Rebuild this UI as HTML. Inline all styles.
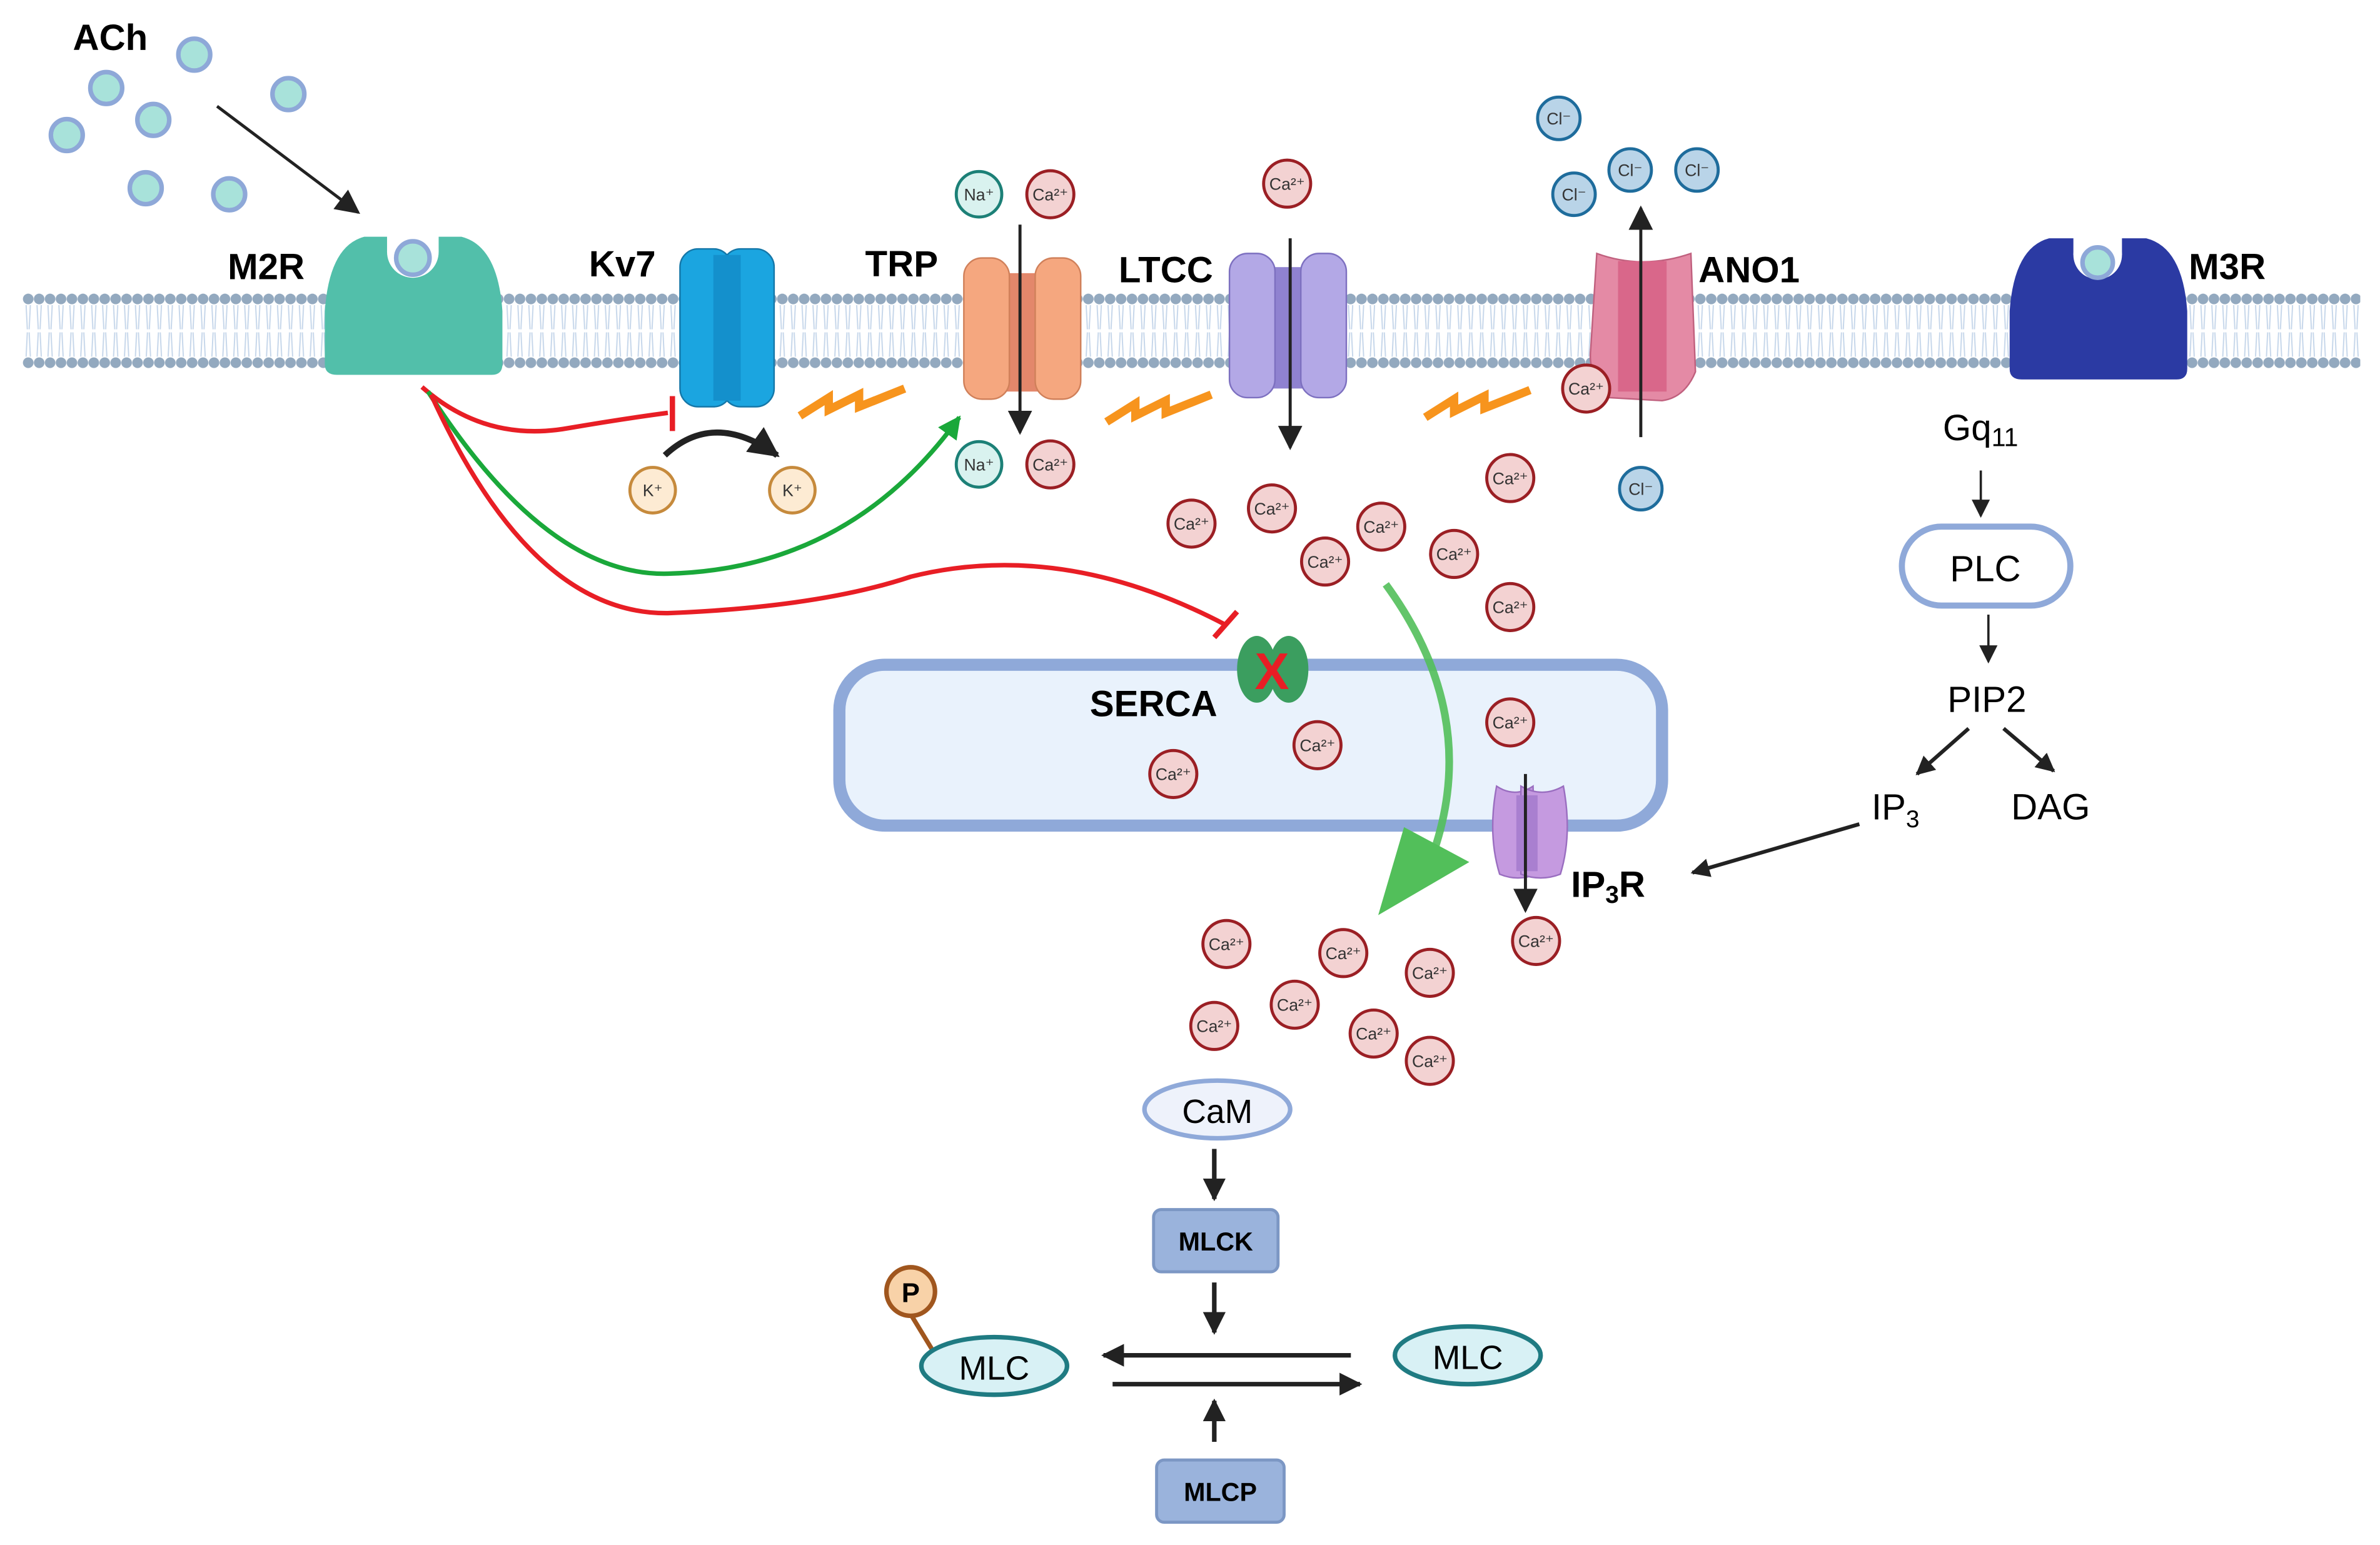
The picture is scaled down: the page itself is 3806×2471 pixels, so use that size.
<!DOCTYPE html>
<html><head><meta charset="utf-8"><style>
html,body{margin:0;padding:0;background:#fff;}
svg{display:block;}
text{font-family:"Liberation Sans",sans-serif;}
.b{font-weight:bold;}
</style></head><body>
<svg width="3806" height="2471" viewBox="0 0 1568 1018" preserveAspectRatio="none" xmlns="http://www.w3.org/2000/svg">
<defs>
<pattern id="heads" x="15" y="0" width="7.2" height="1018" patternUnits="userSpaceOnUse">
<circle cx="3.6" cy="197" r="3.5" fill="#93a9bf"/>
<circle cx="3.6" cy="239" r="3.5" fill="#93a9bf"/>
<path d="M2.2 201 L3 217 M5 201 L4.2 217 M2.2 235 L3 219 M5 235 L4.2 219" stroke="#c5d6ea" stroke-width="0.8" fill="none"/>
</pattern>
<marker id="ah" viewBox="0 0 10 10" refX="9" refY="5" markerWidth="5" markerHeight="5" orient="auto"><path d="M0 0 L10 5 L0 10 z" fill="#222"/></marker>
<marker id="ahs" viewBox="0 0 10 10" refX="9" refY="5" markerWidth="8" markerHeight="8" orient="auto"><path d="M0 0 L10 5 L0 10 z" fill="#222"/></marker>
<marker id="ahg" viewBox="0 0 10 10" refX="9" refY="5" markerWidth="5" markerHeight="5" orient="auto"><path d="M0 0 L10 5 L0 10 z" fill="#1aa83a"/></marker>
<g id="ca"><circle r="15.5" fill="#f3d2d2" stroke="#9b1f24" stroke-width="2"/><text x="0" y="4" font-size="11" text-anchor="middle" fill="#333">Ca²⁺</text></g>
<g id="cl"><circle r="14" fill="#b9d4e8" stroke="#1e6c9c" stroke-width="2"/><text x="0" y="4" font-size="11" text-anchor="middle" fill="#333">Cl⁻</text></g>
<g id="na"><circle r="15" fill="#d9f2ef" stroke="#1c8077" stroke-width="2"/><text x="0" y="4" font-size="11" text-anchor="middle" fill="#333">Na⁺</text></g>
<g id="k"><circle r="15" fill="#fdebd3" stroke="#c68a3c" stroke-width="2"/><text x="0" y="4" font-size="11" text-anchor="middle" fill="#333">K⁺</text></g>
<g id="ach"><circle r="10.5" fill="#a8e2da" stroke="#8ea8d8" stroke-width="3"/></g>
<g id="bolt"><path d="M3 17 L22 5 L22 13 L42 3 L42 11 L72 -1" stroke="#f7941d" stroke-width="5.5" fill="none" stroke-linejoin="miter"/></g>
</defs>

<!-- membrane -->
<rect x="15" y="190" width="1540" height="56" fill="url(#heads)"/>

<!-- ACh -->
<text x="48" y="33" font-size="24" class="b">ACh</text>
<use href="#ach" x="128" y="36"/><use href="#ach" x="70" y="58"/><use href="#ach" x="101" y="79"/>
<use href="#ach" x="190" y="62"/><use href="#ach" x="44" y="89"/><use href="#ach" x="96" y="124"/><use href="#ach" x="151" y="128"/>
<line x1="143" y1="70" x2="236" y2="140" stroke="#222" stroke-width="2" marker-end="url(#ahs)"/>

<!-- M2R -->
<path d="M240 156 L304 156 Q328 162 331 205 L331 240 Q331 247 324 247 L222 247 Q214 247 214 240 L214 205 Q217 162 240 156 Z" fill="#52bfaa"/>
<circle cx="272" cy="166" r="17" fill="#fff"/>
<rect x="255" y="150" width="34" height="16" fill="#fff"/>
<circle cx="272" cy="170" r="11" fill="#a8e2da" stroke="#8ea8d8" stroke-width="3"/>
<text x="150" y="184" font-size="24" class="b">M2R</text>

<!-- Kv7 -->
<text x="388" y="182" font-size="24" class="b">Kv7</text>
<rect x="448" y="164" width="34" height="104" rx="12" fill="#1ba5e0" stroke="#1577a8" stroke-width="1"/>
<rect x="476" y="164" width="34" height="104" rx="12" fill="#1ba5e0" stroke="#1577a8" stroke-width="1"/>
<rect x="470" y="168" width="18" height="96" fill="#1490cc"/>

<!-- TRP -->
<text x="570" y="182" font-size="24" class="b">TRP</text>
<path d="M657 180 L690 180 L690 258 L657 258 Z" fill="#e3876b"/>
<rect x="635" y="170" width="30" height="93" rx="12" fill="#f5a77f" stroke="#d0805a" stroke-width="1"/>
<rect x="682" y="170" width="30" height="93" rx="12" fill="#f5a77f" stroke="#d0805a" stroke-width="1"/>
<use href="#na" x="645" y="128"/><use href="#ca" x="692" y="128"/>
<use href="#na" x="645" y="306"/><use href="#ca" x="692" y="306"/>
<line x1="672" y1="148" x2="672" y2="285" stroke="#222" stroke-width="2" marker-end="url(#ahs)"/>

<!-- LTCC -->
<text x="737" y="186" font-size="24" class="b">LTCC</text>
<rect x="830" y="176" width="38" height="80" fill="#8f82d0"/>
<rect x="810" y="167" width="30" height="95" rx="12" fill="#b3a8e6" stroke="#7d70c0" stroke-width="1"/>
<rect x="857" y="167" width="30" height="95" rx="12" fill="#b3a8e6" stroke="#7d70c0" stroke-width="1"/>
<use href="#ca" x="848" y="121"/>
<line x1="850" y1="157" x2="850" y2="295" stroke="#222" stroke-width="2" marker-end="url(#ahs)"/>

<!-- ANO1 -->
<path d="M1052 167 Q1082 178 1114 167 L1117 245 Q1110 262 1095 264 L1060 262 Q1046 248 1048 230 Z" fill="#e48aa5" stroke="#c0607e" stroke-width="1"/>
<path d="M1066 172 L1098 172 L1098 258 L1066 258 Z" fill="#d9678a"/>
<text x="1119" y="186" font-size="24" class="b">ANO1</text>
<use href="#cl" x="1027" y="78"/><use href="#cl" x="1037" y="128"/><use href="#cl" x="1074" y="112"/><use href="#cl" x="1118" y="112"/>
<use href="#cl" x="1081" y="322"/>
<line x1="1081" y1="288" x2="1081" y2="137" stroke="#222" stroke-width="2" marker-end="url(#ahs)"/>
<use href="#ca" x="1045" y="256"/>

<!-- M3R -->
<path d="M1350 157 L1414 157 Q1438 163 1441 205 L1441 243 Q1441 250 1434 250 L1332 250 Q1324 250 1324 243 L1324 205 Q1327 163 1350 157 Z" fill="#2b3aa3"/>
<circle cx="1382" cy="168" r="16" fill="#fff"/>
<rect x="1366" y="150" width="32" height="18" fill="#fff"/>
<circle cx="1382" cy="173" r="10" fill="#a8e2da" stroke="#8ea8d8" stroke-width="3"/>
<text x="1442" y="184" font-size="24" class="b">M3R</text>

<!-- bolts -->
<use href="#bolt" x="524" y="257"/>
<use href="#bolt" x="726" y="261"/>
<use href="#bolt" x="936" y="258"/>

<!-- K+ -->
<use href="#k" x="430" y="323"/><use href="#k" x="522" y="323"/>
<path d="M438 300 Q470 270 512 300" stroke="#222" stroke-width="4" fill="none" marker-end="url(#ah)"/>

<!-- red inhibit to Kv7 -->
<path d="M278 255 Q320 292 375 282 Q410 276 440 272" stroke="#e81e25" stroke-width="3" fill="none"/>
<line x1="443" y1="261" x2="443" y2="284" stroke="#e81e25" stroke-width="3.5"/>
<!-- green -->
<path d="M282 258 Q360 380 440 378 Q560 375 632 275" stroke="#1aa83a" stroke-width="3" fill="none" marker-end="url(#ahg)"/>
<!-- red inhibit to SERCA -->
<path d="M284 260 Q350 405 440 404 Q540 400 600 380 Q700 355 808 412" stroke="#e81e25" stroke-width="3" fill="none"/>
<line x1="800" y1="420" x2="815" y2="403" stroke="#e81e25" stroke-width="3.5"/>

<!-- ER -->
<rect x="553" y="438" width="542" height="106" rx="30" fill="#e9f2fc" stroke="#8fa9d9" stroke-width="8"/>
<text x="718" y="472" font-size="24" class="b">SERCA</text>
<ellipse cx="828" cy="441" rx="13" ry="22" fill="#3b9e5f"/>
<ellipse cx="849" cy="441" rx="13" ry="22" fill="#3b9e5f"/>
<text x="838" y="454" font-size="34" class="b" text-anchor="middle" fill="#e81e25">X</text>

<!-- Ca ions -->
<use href="#ca" x="785" y="345"/><use href="#ca" x="838" y="335"/><use href="#ca" x="910" y="347"/>
<use href="#ca" x="873" y="370"/><use href="#ca" x="958" y="365"/><use href="#ca" x="995" y="315"/>
<use href="#ca" x="995" y="400"/><use href="#ca" x="995" y="476"/><use href="#ca" x="868" y="491"/>
<use href="#ca" x="773" y="510"/>
<use href="#ca" x="808" y="622"/><use href="#ca" x="885" y="628"/><use href="#ca" x="942" y="641"/>
<use href="#ca" x="853" y="662"/><use href="#ca" x="800" y="676"/><use href="#ca" x="905" y="681"/>
<use href="#ca" x="942" y="699"/><use href="#ca" x="1012" y="620"/>

<!-- big green arrow -->
<path d="M913 385 Q975 470 945 560" stroke="#52bf5a" stroke-width="5" fill="none" opacity="0.9"/>
<path d="M908 603 L925 545 L968 568 Z" fill="#52bf5a"/>

<!-- IP3R -->
<path d="M986 518 Q998 526 1010 518 L1012 576 Q1000 581 988 576 Q980 550 986 518 Z" fill="#c59ae0" stroke="#9a6ec0" stroke-width="1"/>
<path d="M1002 518 Q1016 526 1030 518 Q1036 550 1028 576 Q1015 581 1002 576 Z" fill="#c59ae0" stroke="#9a6ec0" stroke-width="1"/>
<rect x="999" y="524" width="14" height="50" fill="#a97fd0"/>
<line x1="1005" y1="510" x2="1005" y2="600" stroke="#222" stroke-width="2" marker-end="url(#ahs)"/>
<text x="1035" y="591" font-size="24" class="b">IP<tspan font-size="16" dy="4">3</tspan><tspan dy="-4">R</tspan></text>

<!-- M3R pathway -->
<text x="1280" y="290" font-size="24">Gq<tspan font-size="17" dy="4">11</tspan></text>
<line x1="1305" y1="310" x2="1305" y2="340" stroke="#222" stroke-width="1.5" marker-end="url(#ahs)"/>
<rect x="1253" y="347" width="111" height="52" rx="26" fill="#fff" stroke="#8fa9d9" stroke-width="4"/>
<text x="1308" y="383" font-size="24" text-anchor="middle">PLC</text>
<line x1="1310" y1="405" x2="1310" y2="436" stroke="#222" stroke-width="1.5" marker-end="url(#ahs)"/>
<text x="1283" y="469" font-size="24">PIP2</text>
<line x1="1297" y1="480" x2="1263" y2="510" stroke="#222" stroke-width="2.5" marker-end="url(#ah)"/>
<line x1="1320" y1="480" x2="1353" y2="508" stroke="#222" stroke-width="2.5" marker-end="url(#ah)"/>
<text x="1233" y="540" font-size="24">IP<tspan font-size="16" dy="5">3</tspan></text>
<text x="1325" y="540" font-size="24">DAG</text>
<line x1="1225" y1="543" x2="1115" y2="575" stroke="#222" stroke-width="2.5" marker-end="url(#ah)"/>

<!-- contraction -->
<ellipse cx="802" cy="731" rx="48" ry="19" fill="#eef2fb" stroke="#8fa9d9" stroke-width="3"/>
<text x="802" y="740" font-size="22" text-anchor="middle">CaM</text>
<line x1="800" y1="757" x2="800" y2="790" stroke="#222" stroke-width="3" marker-end="url(#ah)"/>
<rect x="760" y="797" width="82" height="41" rx="5" fill="#9ab3dc" stroke="#7c97c4" stroke-width="2"/>
<text x="801" y="824" font-size="17" class="b" text-anchor="middle">MLCK</text>
<line x1="800" y1="845" x2="800" y2="878" stroke="#222" stroke-width="3" marker-end="url(#ah)"/>
<line x1="890" y1="893" x2="727" y2="893" stroke="#222" stroke-width="3" marker-end="url(#ah)"/>
<line x1="733" y1="912" x2="896" y2="912" stroke="#222" stroke-width="3" marker-end="url(#ah)"/>
<line x1="800" y1="950" x2="800" y2="923" stroke="#222" stroke-width="3" marker-end="url(#ah)"/>
<rect x="762" y="962" width="84" height="41" rx="5" fill="#9ab3dc" stroke="#7c97c4" stroke-width="2"/>
<text x="804" y="989" font-size="17" class="b" text-anchor="middle">MLCP</text>
<line x1="600" y1="866" x2="614" y2="889" stroke="#a0561e" stroke-width="3"/>
<circle cx="600" cy="851" r="16" fill="#f8d2a8" stroke="#a0561e" stroke-width="3"/>
<text x="600" y="858" font-size="18" class="b" text-anchor="middle">P</text>
<ellipse cx="655" cy="900" rx="48" ry="19" fill="#d8f1f5" stroke="#1f7b82" stroke-width="3"/>
<text x="655" y="909" font-size="22" text-anchor="middle">MLC</text>
<ellipse cx="967" cy="893" rx="48" ry="19" fill="#d8f1f5" stroke="#1f7b82" stroke-width="3"/>
<text x="967" y="902" font-size="22" text-anchor="middle">MLC</text>
</svg>
</body></html>
